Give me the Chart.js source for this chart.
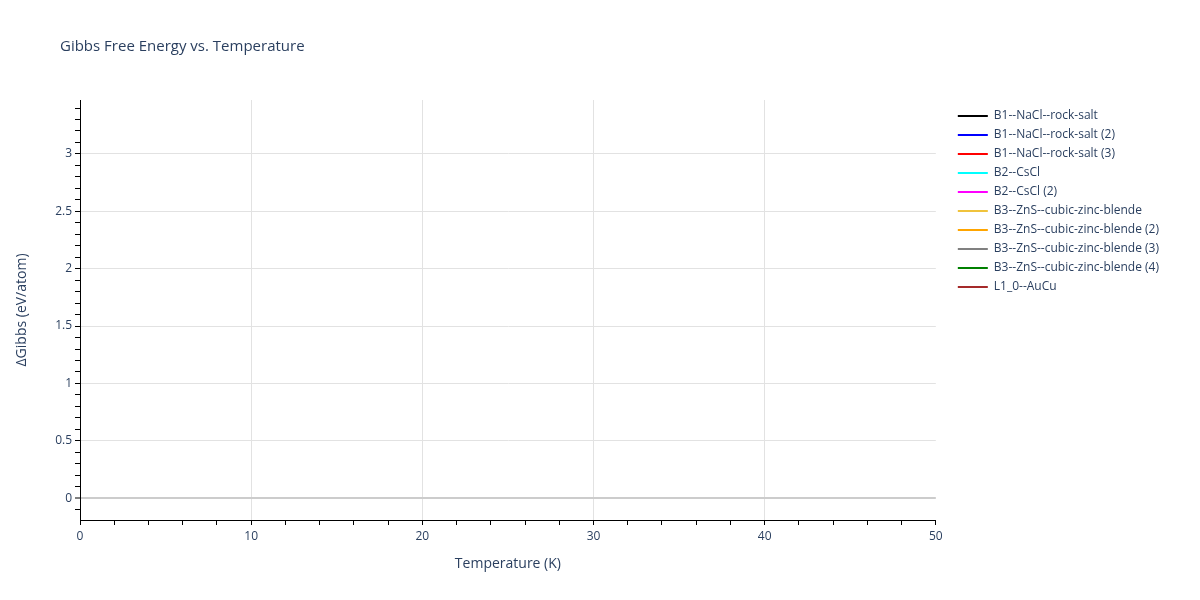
<!DOCTYPE html>
<html>
<head>
<meta charset="utf-8">
<script src="https://cdn.jsdelivr.net/npm/chart.js@4.4.1/dist/chart.umd.min.js"></script>
<style>
    body { margin: 0; background: #fff; }
    #wrap { position: relative; width: 1200px; height: 600px; }
    #title {
        position: absolute; left: 60px; top: 35px;
        font-family: "Open Sans", Verdana, Arial, sans-serif;
        font-size: 15px; color: #2a3f5f;
    }
</style>
</head>
<body>
<div id="wrap">
    <div id="title">Gibbs Free Energy vs. Temperature</div>
    <canvas id="gibbsChart" width="1200" height="600"></canvas>
</div>
<script>
// series names + colours (no visible data points in the plotted range)
const seriesNames = [
    'B1--NaCl--rock-salt',
    'B1--NaCl--rock-salt (2)',
    'B1--NaCl--rock-salt (3)',
    'B2--CsCl',
    'B2--CsCl (2)',
    'B3--ZnS--cubic-zinc-blende',
    'B3--ZnS--cubic-zinc-blende (2)',
    'B3--ZnS--cubic-zinc-blende (3)',
    'B3--ZnS--cubic-zinc-blende (4)',
    'L1_0--AuCu'
];
const seriesColors = ['#000000', '#0000ff', '#ff0000', '#00ffff', '#ff00ff',
                      '#f0c33c', '#ffa500', '#808080', '#008000', '#a52a2a'];
const temperatures = [];
const gibbsValues = [[], [], [], [], [], [], [], [], [], []];

const xTicks = [0, 2, 4, 6, 8, 10, 12, 14, 16, 18, 20, 22, 24, 26, 28, 30,
                32, 34, 36, 38, 40, 42, 44, 46, 48, 50];
const yTicks = [-0.1, 0, 0.1, 0.2, 0.3, 0.4, 0.5, 0.6, 0.7, 0.8, 0.9, 1, 1.1, 1.2,
                1.3, 1.4, 1.5, 1.6, 1.7, 1.8, 1.9, 2, 2.1, 2.2, 2.3, 2.4, 2.5, 2.6,
                2.7, 2.8, 2.9, 3, 3.1, 3.2, 3.3, 3.4];

const FONT = '"Open Sans", Verdana, Arial, sans-serif';
const TXT = '#2a3f5f';

function isMajor(v, step) {
    return Math.abs(v / step - Math.round(v / step)) < 1e-6;
}

// nudge the legend a bit away from the plot, like the original
const legendNudge = {
    id: 'legendNudge',
    afterLayout(c) {
        const lg = c.legend;
        if (!lg) return;
        lg.left += 15; lg.right += 15;
        lg.top += 3; lg.bottom += 3;
    }
};

let chart;

function initChart() {
    const ctx = document.getElementById('gibbsChart').getContext('2d');
    chart = new Chart(ctx, {
        type: 'line',
        data: {
            datasets: seriesNames.map((name, i) => ({
                label: name,
                data: gibbsValues[i].map((g, j) => ({ x: temperatures[j], y: g })),
                borderColor: seriesColors[i],
                backgroundColor: seriesColors[i],
                borderWidth: 2,
                pointRadius: 0
            }))
        },
        plugins: [legendNudge],
        options: {
            responsive: false,
            animation: false,
            devicePixelRatio: 1,
            layout: { padding: { top: 100, left: 0, right: 46, bottom: 0 } },
            plugins: {
                tooltip: { enabled: false },
                legend: {
                    position: 'right',
                    align: 'start',
                    labels: {
                        usePointStyle: true,
                        pointStyle: 'line',
                        pointStyleWidth: 30,
                        padding: 7,
                        color: TXT,
                        font: { family: FONT, size: 12 }
                    }
                }
            },
            scales: {
                x: {
                    type: 'linear',
                    min: 0,
                    max: 50,
                    afterBuildTicks: s => { s.ticks = xTicks.map(v => ({ value: v })); },
                    afterFit: s => { s.height = 80; },
                    border: { display: true, color: '#000', width: 1 },
                    grid: {
                        color: c => (c.tick && isMajor(c.tick.value, 10) && c.tick.value > 0 && c.tick.value < 50) ? '#e2e2e2' : 'rgba(0,0,0,0)',
                        tickColor: '#000',
                        tickWidth: 1,
                        tickLength: 5,
                        drawTicks: true
                    },
                    ticks: {
                        autoSkip: false,
                        maxRotation: 0,
                        padding: 4,
                        color: TXT,
                        font: { family: FONT, size: 12 },
                        callback: v => isMajor(v, 10) ? v : ''
                    },
                    title: {
                        display: true,
                        text: 'Temperature (K)',
                        color: TXT,
                        font: { family: FONT, size: 14 },
                        padding: { top: 0, bottom: 28 }
                    }
                },
                y: {
                    type: 'linear',
                    position: 'left',
                    min: -0.19,
                    max: 3.47,
                    afterBuildTicks: s => { s.ticks = yTicks.map(v => ({ value: v })); },
                    afterFit: s => { s.width = 80; },
                    border: { display: true, color: '#000', width: 1 },
                    grid: {
                        color: c => {
                            if (!c.tick) return 'rgba(0,0,0,0)';
                            if (Math.abs(c.tick.value) < 1e-6) return '#cccccc';
                            return isMajor(c.tick.value, 0.5) ? '#e2e2e2' : 'rgba(0,0,0,0)';
                        },
                        lineWidth: c => (c.tick && Math.abs(c.tick.value) < 1e-6) ? 2 : 1,
                        tickColor: '#000',
                        tickWidth: 1,
                        tickLength: 5,
                        drawTicks: true
                    },
                    ticks: {
                        autoSkip: false,
                        padding: 3,
                        color: TXT,
                        font: { family: FONT, size: 12 },
                        callback: v => isMajor(v, 0.5) ? String(Math.round(v * 10) / 10) : ''
                    },
                    title: {
                        display: true,
                        text: 'ΔGibbs (eV/atom)',
                        color: TXT,
                        font: { family: FONT, size: 14 },
                        padding: { top: 14, bottom: 0 }
                    }
                }
            }
        }
    });
}

window.onload = () => {
    initChart();
};
</script>
</body>
</html>
